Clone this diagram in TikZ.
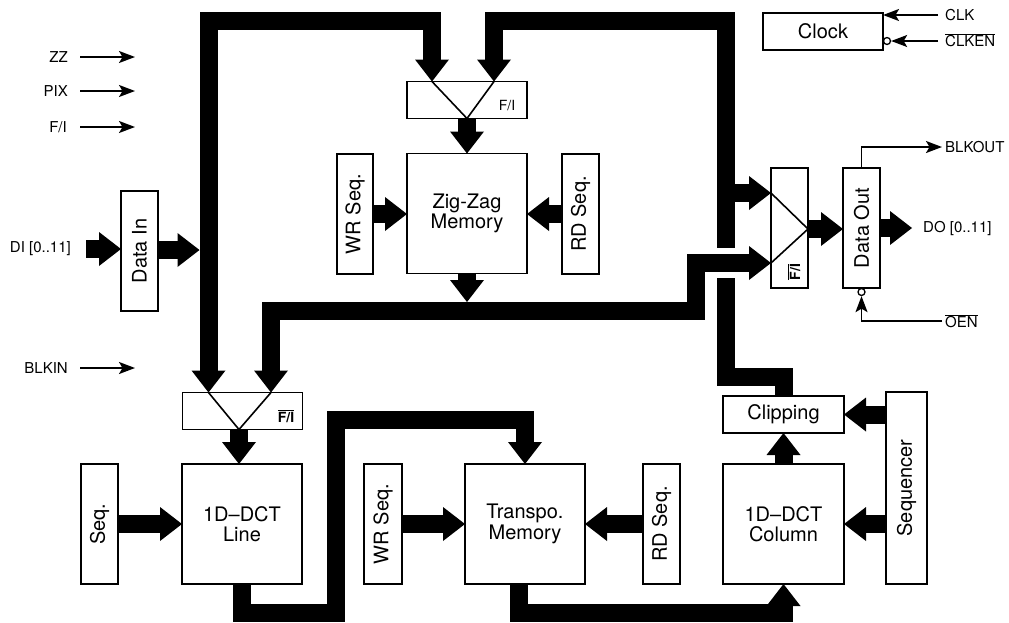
\documentclass[tikz,border=0pt]{standalone}
\usepackage{fontspec}
\setmainfont{TeX Gyre Heros}
\usetikzlibrary{arrows.meta,calc}
\begin{document}
\begin{tikzpicture}[x=1pt,y=-1pt,
  box/.style={draw, line width=1.6pt, inner sep=0pt, outer sep=0pt, fill=white},
  sq/.style={box, minimum width=120pt, minimum height=120pt},
  tall/.style={box, minimum width=37pt, minimum height=120pt},
  wide/.style={box, minimum width=120pt, minimum height=37pt},
  big/.style={font=\fontsize{20}{20.5}\selectfont, align=center},
  sm/.style={font=\fontsize{15}{17}\selectfont, inner sep=0pt},
  mlab/.style={font=\fontsize{14}{14}\selectfont, inner sep=0pt},
  mlabb/.style={font=\fontsize{14}{14}\selectfont\bfseries, inner sep=0pt},
  bus/.style={line width=18pt, line join=miter},
  fat/.style={bus, -{Triangle[length=22pt,width=34pt,line width=0pt]}},
  fattwo/.style={bus, {Triangle[length=22pt,width=34pt,line width=0pt]}-{Triangle[length=22pt,width=34pt,line width=0pt]}},
  thin/.style={line width=1.7pt, -{Stealth[length=16pt,width=12pt,inset=3.5pt]}},
  tri/.style={line width=1.6pt},
  bub/.style={circle, draw, line width=1.3pt, minimum size=7pt, inner sep=0pt, fill=white}]
\useasboundingbox (0,0) rectangle (1009,622);

% ---- boxes
\node[tall,big] (datain) at (139.5,251) {\rotatebox{90}{Data In}};
\node[wide] (zzmux) at (467,100) {};
\node[sq,big] (zz) at (467,213.5) {Zig-Zag\\Memory};
\node[tall,big,minimum width=36pt] (wr1) at (355,214) {\rotatebox{90}{WR Seq.}};
\node[tall,big] (rd1) at (580.5,214) {\rotatebox{90}{RD Seq.}};
\node[wide,big] (clock) at (823,31.5) {Clock};
\node[tall] (outmux) at (789.5,228) {};
\node[tall,big] (dataout) at (861.5,228) {\rotatebox{90}{Data Out}};
\node[wide] (linemux) at (242.5,411) {};
\node[sq,big] (dctline) at (242,524) {1D\textendash DCT\\Line};
\node[tall,big] (seq) at (99.5,524) {\rotatebox{90}{Seq.}};
\node[sq,big] (transpo) at (525,524) {Transpo.\\Memory};
\node[tall,big,minimum width=38pt] (wr2) at (383,524) {\rotatebox{90}{WR Seq.}};
\node[tall,big] (rd2) at (661.5,524) {\rotatebox{90}{RD Seq.}};
\node[sq,big,minimum width=121pt] (dctcol) at (783.5,524) {1D\textendash DCT\\Column};
\node[wide,big,minimum width=121pt] (clip) at (783.5,414.5) {Clipping};
\node[box,big,minimum width=41pt,minimum height=192pt] (sequencer) at (906.5,488) {\rotatebox{90}{Sequencer}};

% ---- mux vertices and labels
\coordinate (zzL) at ($(zzmux.north)+(-35,0)$);
\coordinate (zzR) at ($(zzmux.north)+(27,0)$);
\coordinate (zzB) at (zzmux.south);
\coordinate (lmL) at ($(linemux.north)+(-34,0)$);
\coordinate (lmR) at ($(linemux.north)+(28.5,0)$);
\coordinate (lmB) at ($(linemux.south)+(-3.5,0)$);
\coordinate (omU) at ($(outmux.west)+(0,-35)$);
\coordinate (omD) at ($(outmux.west)+(0,35)$);
\coordinate (omT) at ($(outmux.east)+(0,1)$);
\draw[tri] (zzL) -- (zzB) -- (zzR);
\draw[tri] (lmL) -- (lmB) -- (lmR);
\draw[tri] (omU) -- (omT) -- (omD);
\node[mlab] (fi1) at (507,106) {F/I};
\node[mlabb] (fi2) at (286,416) {$\overline{\mbox{F/I}}$};
\node[mlabb,rotate=90] (fi3) at (794,272) {$\overline{\mbox{F/I}}$};

% ---- left inputs
\node[sm,anchor=east] (zzl) at (68,57) {ZZ};
\node[sm,anchor=east] (pixl) at (68,91) {PIX};
\node[sm,anchor=east] (fil) at (67,127) {F/I};
\node[sm,anchor=east] (blkinl) at (68,368) {BLKIN};
\node[sm,anchor=east] (dil) at (71,249) {DI [0..11]};
\coordinate (zze) at (135,57);
\coordinate (pixe) at (135,91);
\coordinate (fie) at (135,127);
\coordinate (blkine) at (135,368);
\draw[thin] ($(zzl.east)+(12,0)$) -- (zze);
\draw[thin] ($(pixl.east)+(12,0)$) -- (pixe);
\draw[thin] ($(fil.east)+(13,0)$) -- (fie);
\draw[thin] ($(blkinl.east)+(12,0)$) -- (blkine);
\draw[fat] ($(dil.east)+(15,0)$) -- (datain.west |- dil.east);

% ---- Data In bus
\coordinate (tl) at (208.5,21);
\coordinate (busL) at (199.5,250);
\draw[fat] (datain.east |- busL) -- (busL);
\draw[fattwo] (zzL) -- (zzL |- tl) -- (tl) -- (lmL);

% ---- feedback from clipping
\coordinate (c1) at (726,377);
\coordinate (c2) at (726,21);
\draw[fat] (clip.north) -- (clip.north |- c1) -- (c1) -- (c2) -- (zzR |- c2) -- (zzR);
\draw[fat] (c1 |- omU) -- (omU);
\draw[white, line width=30pt] ($(c1 |- omD)+(-12,0)$) -- ($(c1 |- omD)+(14,0)$);

% ---- zig-zag output bus
\coordinate (c3) at (696,311);
\coordinate (c3t) at (696,302);
\draw[fattwo] (lmR) -- (lmR |- c3) -- (c3) -- (c3 |- omD) -- (omD);
\draw[fat] (zz.south) -- (zz.south |- c3t);

% ---- small arrows around zig-zag
\draw[fat] (zzB) -- (zz.north);
\draw[fat] (wr1.east) -- (wr1.east -| zz.west);
\draw[fat] (rd1.west) -- (rd1.west -| zz.east);

% ---- line DCT
\draw[fat] (lmB) -- (lmB |- dctline.north);
\draw[fat] (seq.east) -- (seq.east -| dctline.west);
\coordinate (d1) at (336,613);
\coordinate (d2) at (336,420);
\draw[fat] (dctline.south) -- (dctline.south |- d1) -- (d1) -- (d2) -- (transpo.north |- d2) -- (transpo.north);

% ---- transpose
\draw[fat] (wr2.east) -- (wr2.east -| transpo.west);
\draw[fat] (rd2.west) -- (rd2.west -| transpo.east);
\coordinate (e0) at ($(transpo.south)+(-6,0)$);
\draw[fat] (e0) -- (e0 |- d1) -- (dctcol.south |- d1) -- (dctcol.south);

% ---- column DCT
\draw[fat] (dctcol.north) -- (clip.south);
\draw[fat] (sequencer.west |- clip.east) -- (clip.east);
\draw[fat] (sequencer.west |- dctcol.east) -- (dctcol.east);

% ---- output
\draw[fat] (omT) -- (omT -| dataout.west);
\node[sm,anchor=west] (dol) at (923,228) {DO [0..11]};
\draw[fat] (dataout.east) -- ($(dol.west)+(-11,0)$);
\node[sm,anchor=west] (blkt) at (945,147) {BLKOUT};
\draw[thin] (dataout.north) -- (dataout.north |- blkt) -- ($(blkt.west)+(-3,0)$);
\node[bub] (b2) at (861.5,292) {};
\node[sm,anchor=west] (oent) at (945,321) {$\overline{\mbox{OEN}}$};
\draw[thin] ($(oent.west)+(-3,0)$) -- (b2 |- oent) -- (b2.south);

% ---- clock
\node[sm,anchor=west] (clkt) at (945,15) {CLK};
\node[sm,anchor=west] (clkent) at (945,40) {$\overline{\mbox{CLKEN}}$};
\node[bub] (b1) at (887,41) {};
\draw[thin] ($(clkt.west)+(-7,0)$) -- (clock.east |- clkt);
\draw[thin] ($(clkent.west |- b1)+(-7,0)$) -- (b1.east);
\end{tikzpicture}
\end{document}
